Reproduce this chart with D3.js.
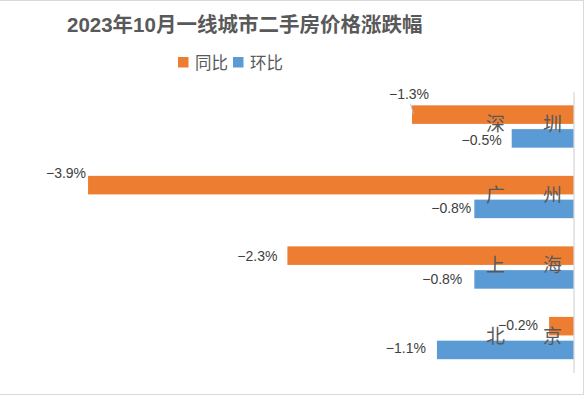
<!DOCTYPE html>
<html><head><meta charset="utf-8">
<script src="https://cdn.jsdelivr.net/npm/d3@7"></script>
<style>
html,body{margin:0;padding:0;background:#fff;}
svg{display:block;}
text{font-family:"Liberation Sans","Noto Sans CJK SC",sans-serif;}
</style></head>
<body>
<svg id="chart" width="586" height="395"></svg>
<script>
const title = "2023年10月一线城市二手房价格涨跌幅";
const cities = ["深圳", "广州", "上海", "北京"];
const cityLabels = ["深\u3000\u3000圳", "广\u3000\u3000州", "上\u3000\u3000海", "北\u3000\u3000京"];
const seriesNames = ["同比", "环比"];
const yoy = [-1.3, -3.9, -2.3, -0.2];   // 同比 (%)
const mom = [-0.5, -0.8, -0.8, -1.1];   // 环比 (%)
const colors = ["#ED7D31", "#5B9BD5"];

const svg = d3.select("#chart");

// outer border
svg.append("rect").attr("x", -5).attr("y", 0.5).attr("width", 588.5).attr("height", 394)
  .attr("fill", "none").attr("stroke", "#d9d9d9").attr("stroke-width", 1);

// title
svg.append("text").attr("x", 67).attr("y", 24).attr("dominant-baseline", "central")
  .attr("font-size", 20.5).attr("font-weight", "bold").attr("fill", "#595959").text(title);

// legend
const legendItems = [{x: 178, name: seriesNames[0], c: colors[0]}, {x: 233, name: seriesNames[1], c: colors[1]}];
legendItems.forEach(d => {
  svg.append("rect").attr("x", d.x).attr("y", 57).attr("width", 10.5).attr("height", 10.5).attr("fill", d.c);
  svg.append("text").attr("x", d.x + 17).attr("y", 62.5).attr("dominant-baseline", "central")
    .attr("font-size", 16.5).attr("fill", "#595959").text(d.name);
});

// scales
const x = d3.scaleLinear().domain([-4.5, 0]).range([13.3, 574]);
const y = d3.scaleBand().domain(cities).range([91.25, 373.3]).paddingInner(0.4).paddingOuter(0.2);
const sub = d3.scaleBand().domain(seriesNames).range([0, y.bandwidth()]).paddingInner(0.22);

const rows = [];
cities.forEach((c, i) => {
  rows.push({city: c, s: seriesNames[0], v: yoy[i], c: colors[0]});
  rows.push({city: c, s: seriesNames[1], v: mom[i], c: colors[1]});
});

// bars
svg.append("g").selectAll("rect").data(rows).join("rect")
  .attr("x", d => x(Math.min(d.v, 0)))
  .attr("width", d => Math.abs(x(d.v) - x(0)))
  .attr("y", d => y(d.city) + sub(d.s))
  .attr("height", sub.bandwidth())
  .attr("fill", d => d.c);

// zero axis line
svg.append("line").attr("x1", x(0)).attr("x2", x(0)).attr("y1", 92).attr("y2", 373)
  .attr("stroke", "#d9d9d9").attr("stroke-width", 1.3);

// category labels
svg.append("g").selectAll("text").data(cities).join("text")
  .attr("x", 562).attr("y", d => y(d) + y.bandwidth() / 2 - 2)
  .attr("text-anchor", "end").attr("dominant-baseline", "central")
  .attr("font-size", 19).attr("fill", "#595959")
  .text((d, i) => cityLabels[i]);

// data label placements (dx from bar end, dy from bar centre, anchor)
const labelNudge = {
  "深圳|同比": {dx: -3, dy: -21, anchor: "middle", leader: true},
  "广州|同比": {dx: -2, dy: -12, anchor: "end"},
  "上海|同比": {dx: -10, dy: 0.5, anchor: "end"},
  "北京|同比": {dx: -11, dy: -1, anchor: "end"},
  "深圳|环比": {dx: -10, dy: 1.5, anchor: "end"},
  "广州|环比": {dx: -3, dy: -0.5, anchor: "end"},
  "上海|环比": {dx: -12, dy: -0.5, anchor: "end"},
  "北京|环比": {dx: -11, dy: -1.5, anchor: "end"}
};
const fmt = v => d3.format(".1f")(v) + "%";

rows.forEach(d => {
  const n = labelNudge[d.city + "|" + d.s];
  const bx = x(d.v);
  const by = y(d.city) + sub(d.s) + sub.bandwidth() / 2;
  if (n.leader) {
    svg.append("line").attr("x1", bx - 1.5).attr("y1", by - 11).attr("x2", bx + 1.5).attr("y2", by - 0.5)
      .attr("stroke", "#bfbfbf").attr("stroke-width", 1);
  }
  svg.append("text").attr("x", bx + n.dx).attr("y", by + n.dy)
    .attr("text-anchor", n.anchor).attr("dominant-baseline", "central")
    .attr("font-size", 14).attr("fill", "#404040").text(fmt(d.v));
});
</script>
</body></html>
